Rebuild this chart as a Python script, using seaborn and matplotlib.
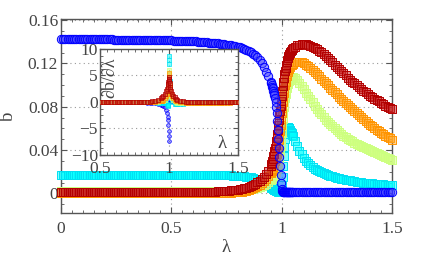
import numpy as np
import pandas as pd
import matplotlib
matplotlib.use("Agg")
import matplotlib.pyplot as plt
from matplotlib.ticker import MultipleLocator
import seaborn as sns

# ---------------- data ----------------
# sampling of lambda: coarse away from the transition, fine around lambda = 1
lam_low = np.round(np.linspace(0.00, 0.94, 95), 4)
lam_mid = np.round(np.linspace(0.95, 1.05, 41), 4)
lam_high = np.round(np.linspace(1.06, 1.50, 45), 4)
lam = np.concatenate([lam_low, lam_mid, lam_high])

b_blue = [
    # 0.00 - 0.94
    0.1427, 0.1427, 0.1427, 0.1427, 0.1426, 0.1426, 0.1426, 0.1426, 0.1425, 0.1425,
    0.1425, 0.1425, 0.1424, 0.1424, 0.1424, 0.1424, 0.1423, 0.1423, 0.1423, 0.1423,
    0.1422, 0.1422, 0.1422, 0.1422, 0.1421, 0.1421, 0.1421, 0.1421, 0.1420, 0.1420,
    0.1420, 0.1420, 0.1419, 0.1419, 0.1419, 0.1418, 0.1418, 0.1418, 0.1417, 0.1417,
    0.1417, 0.1416, 0.1416, 0.1415, 0.1415, 0.1414, 0.1414, 0.1413, 0.1413, 0.1412,
    0.1412, 0.1411, 0.1411, 0.1410, 0.1409, 0.1409, 0.1408, 0.1407, 0.1407, 0.1406,
    0.1405, 0.1404, 0.1402, 0.1401, 0.1399, 0.1397, 0.1395, 0.1393, 0.1391, 0.1389,
    0.1387, 0.1385, 0.1382, 0.1379, 0.1376, 0.1373, 0.1370, 0.1367, 0.1363, 0.1359,
    0.1355, 0.1348, 0.1340, 0.1332, 0.1323, 0.1313, 0.1302, 0.1290, 0.1276, 0.1260,
    0.1235, 0.1205, 0.1168, 0.1125, 0.1080,
    # 0.95 - 1.05 (step 0.0025)
    0.1030, 0.1016, 0.1002, 0.0987, 0.0970, 0.0950, 0.0928, 0.0905, 0.0878, 0.0845,
    0.0800, 0.0740, 0.0670, 0.0590, 0.0505, 0.0420, 0.0335, 0.0250, 0.0170, 0.0095,
    0.0045, 0.0020, 0.0013, 0.0011, 0.0010, 0.0010, 0.0010, 0.0010, 0.0010, 0.0010,
    0.0010, 0.0010, 0.0010, 0.0010, 0.0010, 0.0010, 0.0010, 0.0010, 0.0010, 0.0010,
    0.0010,
    # 1.06 - 1.50
    0.0010, 0.0010, 0.0010, 0.0010, 0.0010, 0.0010, 0.0010, 0.0010, 0.0010, 0.0010,
    0.0010, 0.0010, 0.0010, 0.0010, 0.0010, 0.0010, 0.0010, 0.0010, 0.0010, 0.0010,
    0.0010, 0.0010, 0.0010, 0.0010, 0.0010, 0.0010, 0.0010, 0.0010, 0.0010, 0.0010,
    0.0010, 0.0010, 0.0010, 0.0010, 0.0010, 0.0010, 0.0010, 0.0010, 0.0010, 0.0010,
    0.0010, 0.0010, 0.0010, 0.0010, 0.0010,
]

b_cyan = [
    # 0.00 - 0.94
    0.0174, 0.0174, 0.0174, 0.0174, 0.0174, 0.0174, 0.0174, 0.0174, 0.0174, 0.0174,
    0.0174, 0.0174, 0.0174, 0.0174, 0.0174, 0.0174, 0.0174, 0.0174, 0.0174, 0.0174,
    0.0174, 0.0174, 0.0174, 0.0174, 0.0174, 0.0174, 0.0174, 0.0174, 0.0174, 0.0174,
    0.0173, 0.0173, 0.0173, 0.0173, 0.0173, 0.0173, 0.0173, 0.0173, 0.0173, 0.0173,
    0.0173, 0.0173, 0.0173, 0.0173, 0.0173, 0.0173, 0.0173, 0.0173, 0.0173, 0.0173,
    0.0173, 0.0173, 0.0173, 0.0173, 0.0173, 0.0173, 0.0173, 0.0173, 0.0173, 0.0173,
    0.0172, 0.0172, 0.0172, 0.0172, 0.0172, 0.0172, 0.0172, 0.0172, 0.0172, 0.0172,
    0.0171, 0.0171, 0.0170, 0.0170, 0.0169, 0.0168, 0.0168, 0.0167, 0.0166, 0.0165,
    0.0164, 0.0162, 0.0160, 0.0158, 0.0155, 0.0152, 0.0148, 0.0143, 0.0137, 0.0130,
    0.0122, 0.0112, 0.0100, 0.0087, 0.0073,
    # 0.95 - 1.05
    0.0058, 0.0054, 0.0051, 0.0047, 0.0044, 0.0041, 0.0037, 0.0034, 0.0031, 0.0028,
    0.0025, 0.0023, 0.0020, 0.0019, 0.0017, 0.0016, 0.0015, 0.0015, 0.0015, 0.0016,
    0.0025, 0.0080, 0.0150, 0.0250, 0.0350, 0.0430, 0.0500, 0.0545, 0.0580, 0.0600,
    0.0610, 0.0614, 0.0614, 0.0608, 0.0600, 0.0590, 0.0580, 0.0568, 0.0555, 0.0543,
    0.0530,
    # 1.06 - 1.50
    0.0480, 0.0435, 0.0395, 0.0360,
    0.0330, 0.0303, 0.0280, 0.0260, 0.0243, 0.0228, 0.0215, 0.0204, 0.0194, 0.0185,
    0.0177, 0.0170, 0.0163, 0.0157, 0.0152, 0.0147, 0.0142, 0.0137, 0.0133, 0.0129,
    0.0124, 0.0120, 0.0117, 0.0113, 0.0110, 0.0107, 0.0104, 0.0101, 0.0099, 0.0097,
    0.0095, 0.0093, 0.0091, 0.0089, 0.0088, 0.0086, 0.0085, 0.0083, 0.0082, 0.0080,
    0.0079,
]

b_yellow = [
    # 0.00 - 0.94
    0.0024, 0.0024, 0.0024, 0.0024, 0.0024, 0.0024, 0.0024, 0.0024, 0.0024, 0.0024,
    0.0024, 0.0024, 0.0024, 0.0024, 0.0024, 0.0024, 0.0024, 0.0024, 0.0024, 0.0024,
    0.0024, 0.0024, 0.0024, 0.0024, 0.0024, 0.0024, 0.0024, 0.0024, 0.0024, 0.0024,
    0.0024, 0.0024, 0.0024, 0.0024, 0.0024, 0.0024, 0.0024, 0.0024, 0.0024, 0.0024,
    0.0024, 0.0024, 0.0024, 0.0024, 0.0024, 0.0024, 0.0024, 0.0024, 0.0024, 0.0024,
    0.0024, 0.0024, 0.0024, 0.0024, 0.0024, 0.0024, 0.0024, 0.0024, 0.0024, 0.0024,
    0.0024, 0.0024, 0.0024, 0.0024, 0.0024, 0.0024, 0.0024, 0.0024, 0.0024, 0.0024,
    0.0024, 0.0024, 0.0024, 0.0024, 0.0024, 0.0024, 0.0024, 0.0025, 0.0025, 0.0025,
    0.0026, 0.0027, 0.0028, 0.0030, 0.0032, 0.0035, 0.0038, 0.0042, 0.0047, 0.0053,
    0.0060, 0.0068, 0.0078, 0.0090, 0.0105,
    # 0.95 - 1.05
    0.0125, 0.0131, 0.0137, 0.0143, 0.0150, 0.0158, 0.0166, 0.0175, 0.0185, 0.0197,
    0.0210, 0.0224, 0.0240, 0.0260, 0.0282, 0.0308, 0.0340, 0.0385, 0.0440, 0.0500,
    0.0560, 0.0625, 0.0688, 0.0746, 0.0800, 0.0845, 0.0885, 0.0920, 0.0950, 0.0973,
    0.0994, 0.1013, 0.1030, 0.1041, 0.1051, 0.1059, 0.1065, 0.1068, 0.1070, 0.1071,
    0.1072,
    # 1.06 - 1.50
    0.1065, 0.1045, 0.1020, 0.0990,
    0.0960, 0.0930, 0.0900, 0.0870, 0.0840, 0.0810, 0.0782, 0.0755, 0.0730, 0.0705,
    0.0682, 0.0660, 0.0639, 0.0619, 0.0600, 0.0582, 0.0565, 0.0549, 0.0534, 0.0520,
    0.0506, 0.0493, 0.0481, 0.0469, 0.0458, 0.0447, 0.0437, 0.0427, 0.0418, 0.0409,
    0.0398, 0.0389, 0.0380, 0.0371, 0.0362, 0.0353, 0.0345, 0.0337, 0.0329, 0.0321,
    0.0313,
]

b_orange = [
    # 0.00 - 0.94
    0.0006, 0.0006, 0.0006, 0.0006, 0.0006, 0.0006, 0.0006, 0.0006, 0.0006, 0.0006,
    0.0006, 0.0006, 0.0006, 0.0006, 0.0006, 0.0006, 0.0006, 0.0006, 0.0006, 0.0006,
    0.0006, 0.0006, 0.0006, 0.0006, 0.0006, 0.0006, 0.0006, 0.0006, 0.0006, 0.0006,
    0.0006, 0.0006, 0.0006, 0.0006, 0.0006, 0.0006, 0.0006, 0.0006, 0.0006, 0.0006,
    0.0006, 0.0006, 0.0006, 0.0006, 0.0006, 0.0006, 0.0006, 0.0006, 0.0006, 0.0006,
    0.0006, 0.0006, 0.0006, 0.0006, 0.0006, 0.0006, 0.0006, 0.0006, 0.0006, 0.0006,
    0.0006, 0.0006, 0.0006, 0.0006, 0.0006, 0.0006, 0.0006, 0.0006, 0.0006, 0.0006,
    0.0006, 0.0006, 0.0007, 0.0007, 0.0007, 0.0008, 0.0008, 0.0009, 0.0010, 0.0011,
    0.0012, 0.0015, 0.0018, 0.0022, 0.0027, 0.0033, 0.0040, 0.0048, 0.0057, 0.0068,
    0.0080, 0.0095, 0.0112, 0.0132, 0.0158,
    # 0.95 - 1.05
    0.0190, 0.0199, 0.0209, 0.0219, 0.0230, 0.0245, 0.0262, 0.0280, 0.0300, 0.0320,
    0.0342, 0.0365, 0.0390, 0.0420, 0.0452, 0.0490, 0.0530, 0.0580, 0.0632, 0.0686,
    0.0740, 0.0790, 0.0840, 0.0886, 0.0930, 0.0967, 0.1000, 0.1031, 0.1060, 0.1082,
    0.1102, 0.1120, 0.1135, 0.1147, 0.1157, 0.1167, 0.1175, 0.1182, 0.1188, 0.1193,
    0.1198,
    # 1.06 - 1.50
    0.1210, 0.1215, 0.1215, 0.1210,
    0.1200, 0.1188, 0.1174, 0.1158, 0.1140, 0.1121, 0.1101, 0.1081, 0.1061, 0.1040,
    0.1020, 0.0999, 0.0978, 0.0957, 0.0936, 0.0915, 0.0894, 0.0874, 0.0854, 0.0834,
    0.0814, 0.0795, 0.0776, 0.0757, 0.0739, 0.0721, 0.0703, 0.0686, 0.0669, 0.0652,
    0.0636, 0.0620, 0.0605, 0.0590, 0.0575, 0.0561, 0.0547, 0.0534, 0.0521, 0.0508,
    0.0496,
]

b_red = [
    # 0.00 - 0.94
    0.0014, 0.0014, 0.0014, 0.0014, 0.0014, 0.0014, 0.0014, 0.0014, 0.0014, 0.0014,
    0.0014, 0.0014, 0.0014, 0.0014, 0.0014, 0.0014, 0.0014, 0.0014, 0.0014, 0.0014,
    0.0014, 0.0014, 0.0014, 0.0014, 0.0014, 0.0014, 0.0014, 0.0014, 0.0014, 0.0014,
    0.0014, 0.0014, 0.0014, 0.0014, 0.0014, 0.0014, 0.0014, 0.0014, 0.0014, 0.0014,
    0.0014, 0.0014, 0.0014, 0.0014, 0.0014, 0.0014, 0.0014, 0.0014, 0.0014, 0.0014,
    0.0014, 0.0014, 0.0014, 0.0014, 0.0014, 0.0014, 0.0014, 0.0014, 0.0014, 0.0014,
    0.0014, 0.0014, 0.0014, 0.0015, 0.0015, 0.0015, 0.0016, 0.0016, 0.0017, 0.0017,
    0.0018, 0.0019, 0.0020, 0.0021, 0.0022, 0.0024, 0.0026, 0.0028, 0.0030, 0.0033,
    0.0036, 0.0040, 0.0044, 0.0049, 0.0055, 0.0062, 0.0070, 0.0079, 0.0090, 0.0102,
    0.0116, 0.0132, 0.0152, 0.0177, 0.0210,
    # 0.95 - 1.05
    0.0255, 0.0270, 0.0285, 0.0302, 0.0320, 0.0343, 0.0367, 0.0393, 0.0420, 0.0450,
    0.0481, 0.0515, 0.0550, 0.0590, 0.0632, 0.0675, 0.0720, 0.0765, 0.0810, 0.0855,
    0.0900, 0.0945, 0.0988, 0.1030, 0.1070, 0.1103, 0.1133, 0.1162, 0.1190, 0.1210,
    0.1230, 0.1248, 0.1265, 0.1277, 0.1289, 0.1300, 0.1310, 0.1318, 0.1325, 0.1332,
    0.1338,
    # 1.06 - 1.50
    0.1355, 0.1366, 0.1373, 0.1377,
    0.1378, 0.1376, 0.1372, 0.1365, 0.1356, 0.1345, 0.1332, 0.1318, 0.1302, 0.1285,
    0.1267, 0.1248, 0.1229, 0.1209, 0.1189, 0.1169, 0.1149, 0.1129, 0.1109, 0.1089,
    0.1070, 0.1051, 0.1033, 0.1015, 0.0998, 0.0981, 0.0965, 0.0949, 0.0934, 0.0919,
    0.0904, 0.0890, 0.0876, 0.0862, 0.0849, 0.0836, 0.0823, 0.0811, 0.0799, 0.0787,
    0.0776,
]

# inset: derivative db/dlambda
lam_in = [
    0.50, 0.52, 0.54, 0.56, 0.58, 0.60, 0.62, 0.64, 0.66, 0.68,
    0.70, 0.72, 0.74, 0.76, 0.78, 0.80, 0.82, 0.84, 0.86, 0.88,
    0.90, 0.92, 0.94, 0.95, 0.96, 0.97, 0.98, 0.985, 0.99, 0.993,
    0.996, 0.998, 0.999, 1.000, 1.001, 1.002, 1.004, 1.007, 1.01, 1.015,
    1.02, 1.03, 1.04, 1.05, 1.06, 1.08, 1.10, 1.12, 1.14, 1.16,
    1.18, 1.20, 1.22, 1.24, 1.26, 1.28, 1.30, 1.32, 1.34, 1.36,
    1.38, 1.40, 1.42, 1.44, 1.46, 1.48, 1.50,
]
d_blue = [
    0.0, 0.0, 0.0, 0.0, 0.0, 0.0, 0.0, 0.0, 0.0, 0.0,
    -0.02, -0.03, -0.03, -0.04, -0.05, -0.06, -0.08, -0.10, -0.13, -0.18,
    -0.25, -0.38, -0.50, -0.60, -0.75, -1.00, -1.60, -2.10, -2.80, -3.40,
    -4.30, -5.40, -6.40, -7.40, 0.60, 0.50, 0.40, 0.30, 0.25, 0.20,
    0.15, 0.12, 0.10, 0.08, 0.06, 0.05, 0.04, 0.03, 0.02, 0.02,
    0.01, 0.01, 0.01, 0.01, 0.01, 0.01, 0.01, 0.01, 0.01, 0.01,
    0.01, 0.01, 0.01, 0.01, 0.01, 0.01, 0.01,
]
d_cyan = [
    0.0, 0.0, 0.0, 0.0, 0.0, 0.0, 0.0, 0.0, 0.0, 0.0,
    0.0, 0.0, 0.0, 0.0, 0.0, -0.01, -0.02, -0.03, -0.04, -0.05,
    -0.08, -0.10, -0.12, -0.13, -0.14, -0.15, -0.25, -0.35, -0.50, -0.70,
    -0.60, 1.50, 4.00, 8.60, 7.90, 7.20, 4.00, 2.20, 1.40, 0.70,
    0.30, 0.00, -0.30, -0.45, -0.45, -0.40, -0.32, -0.25, -0.20, -0.16,
    -0.13, -0.11, -0.09, -0.08, -0.07, -0.06, -0.05, -0.045, -0.04, -0.035,
    -0.03, -0.03, -0.025, -0.025, -0.02, -0.02, -0.02,
]
d_yellow = [
    0.0, 0.0, 0.0, 0.0, 0.0, 0.0, 0.0, 0.0, 0.0, 0.0,
    0.0, 0.0, 0.0, 0.0, 0.0, 0.01, 0.01, 0.02, 0.02, 0.03,
    0.05, 0.08, 0.12, 0.16, 0.25, 0.40, 0.75, 1.10, 1.60, 2.10,
    2.90, 3.90, 5.00, 6.10, 5.20, 4.20, 3.00, 2.00, 1.50, 1.00,
    0.70, 0.40, 0.15, 0.00, -0.10, -0.20, -0.25, -0.28, -0.28, -0.27,
    -0.25, -0.22, -0.20, -0.18, -0.16, -0.15, -0.14, -0.13, -0.12, -0.11,
    -0.10, -0.09, -0.09, -0.08, -0.08, -0.08, -0.07,
]
d_orange = [
    0.0, 0.0, 0.0, 0.0, 0.0, 0.0, 0.0, 0.0, 0.0, 0.0,
    0.0, 0.0, 0.0, 0.0, 0.01, 0.02, 0.02, 0.03, 0.04, 0.05,
    0.08, 0.12, 0.20, 0.28, 0.45, 0.70, 1.20, 1.60, 2.20, 2.70,
    3.40, 4.20, 4.80, 5.40, 4.80, 4.20, 3.40, 2.60, 2.10, 1.50,
    1.10, 0.70, 0.40, 0.25, 0.15, 0.05, -0.05, -0.10, -0.12, -0.14,
    -0.15, -0.15, -0.15, -0.14, -0.14, -0.13, -0.13, -0.12, -0.12, -0.11,
    -0.11, -0.10, -0.10, -0.10, -0.09, -0.09, -0.09,
]
d_red = [
    0.0, 0.0, 0.0, 0.0, 0.0, 0.0, 0.0, 0.0, 0.0, 0.0,
    0.01, 0.01, 0.01, 0.02, 0.02, 0.03, 0.04, 0.05, 0.08, 0.15,
    0.25, 0.45, 0.75, 0.95, 1.20, 1.55, 2.10, 2.50, 2.90, 3.30,
    3.70, 4.10, 4.40, 4.80, 4.40, 4.00, 3.50, 2.90, 2.50, 2.00,
    1.60, 1.15, 0.85, 0.62, 0.45, 0.25, 0.15, 0.08, 0.03, 0.00,
    -0.03, -0.05, -0.06, -0.07, -0.08, -0.08, -0.08, -0.08, -0.08, -0.08,
    -0.08, -0.08, -0.07, -0.07, -0.07, -0.07, -0.07,
]

main_ticks_x = [0, 0.5, 1, 1.5]
main_ticklabels_x = ["0", "0.5", "1", "1.5"]
main_ticks_y = [0, 0.04, 0.08, 0.12, 0.16]
main_ticklabels_y = ["0", "0.04", "0.08", "0.12", "0.16"]
inset_ticks_x = [0.5, 1, 1.5]
inset_ticklabels_x = ["0.5", "1", "1.5"]
inset_ticks_y = [-10, -5, 0, 5, 10]
inset_ticklabels_y = ["\u221210", "\u22125", "0", "5", "10"]

for arr in (b_blue, b_cyan, b_yellow, b_orange, b_red):
    assert len(arr) == len(lam), len(arr)
for arr in (d_blue, d_cyan, d_yellow, d_orange, d_red):
    assert len(arr) == len(lam_in), len(arr)

# ---------------- style ----------------
sns.set_style("ticks")
plt.rcParams["font.family"] = ["Liberation Serif", "DejaVu Serif"]
TXT = "#444444"
plt.rcParams["text.color"] = TXT
plt.rcParams["axes.labelcolor"] = TXT
plt.rcParams["xtick.color"] = "#555555"
plt.rcParams["ytick.color"] = "#555555"
plt.rcParams["xtick.labelcolor"] = TXT
plt.rcParams["ytick.labelcolor"] = TXT

FS = 12.5

# (name, main values, inset values, marker, face rgba, edge rgb)
series = [
    ("cyan", b_cyan, d_cyan, "s", (0.0, 1.0, 1.0, 0.5), (0.0, 0.88, 0.95)),
    ("yellow", b_yellow, d_yellow, "s", (0.82, 1.0, 0.50, 0.5), (0.80, 1.0, 0.50)),
    ("orange", b_orange, d_orange, "s", (1.0, 0.65, 0.15, 0.5), (1.0, 0.58, 0.0)),
    ("red", b_red, d_red, "s", (0.78, 0.15, 0.15, 0.5), (0.70, 0.0, 0.0)),
    ("blue", b_blue, d_blue, "o", (0.25, 0.25, 1.0, 0.45), (0.0, 0.0, 1.0)),
]

fig = plt.figure(figsize=(4.32, 2.57), dpi=100)
ax = fig.add_axes([0.1412, 0.1712, 0.7662, 0.7548])

for i, (name, vals, dvals, mk, fc, ec) in enumerate(series):
    df = pd.DataFrame({"lam": lam, "b": vals})
    sns.scatterplot(data=df, x="lam", y="b", ax=ax, marker=mk,
                    s=30 if mk == "s" else 36, color=fc, edgecolor=ec,
                    linewidth=0.7, clip_on=False, zorder=3 + i, legend=False)

ax.set_xlim(0, 1.5)
ax.set_ylim(-0.018, 0.161)
ax.set_xticks(main_ticks_x)
ax.set_xticklabels(main_ticklabels_x)
ax.set_yticks(main_ticks_y)
ax.set_yticklabels(main_ticklabels_y)
ax.xaxis.set_minor_locator(MultipleLocator(0.05))
ax.yaxis.set_minor_locator(MultipleLocator(0.01))
ax.tick_params(which="both", direction="in", top=True, right=True,
               labelsize=FS)
ax.tick_params(which="major", length=4.5, width=0.8)
ax.tick_params(which="minor", length=2.5, width=0.6)
ax.tick_params(axis="x", pad=6)
ax.tick_params(axis="y", pad=2)
ax.grid(True, which="major", linestyle=(0, (1, 3)), color="0.6", linewidth=0.8)
ax.set_axisbelow(True)
for sp in ax.spines.values():
    sp.set_color("#555555")
    sp.set_linewidth(1.0)
ax.set_xlabel("\u03bb", fontsize=FS + 1, labelpad=1)
ax.set_ylabel("b", fontsize=FS + 1, labelpad=8)

# ---------------- inset ----------------
axi = fig.add_axes([0.2315, 0.3969, 0.3194, 0.4125])
axi.set_facecolor("white")
inset_order = [4, 0, 1, 2, 3]
for j, idx in enumerate(inset_order):
    name, vals, dvals, mk, fc, ec = series[idx]
    dfi = pd.DataFrame({"lam": lam_in, "d": dvals})
    sns.scatterplot(data=dfi, x="lam", y="d", ax=axi, marker=mk,
                    s=7, color=fc, edgecolor=ec, linewidth=0.5,
                    zorder=3 + j, legend=False)
axi.set_xlim(0.5, 1.5)
axi.set_ylim(-10, 10)
axi.set_xticks(inset_ticks_x)
axi.set_xticklabels(inset_ticklabels_x)
axi.set_yticks(inset_ticks_y)
axi.set_yticklabels(inset_ticklabels_y)
axi.xaxis.set_minor_locator(MultipleLocator(0.05))
axi.yaxis.set_minor_locator(MultipleLocator(1.25))
axi.tick_params(which="both", direction="in", top=True, right=True,
                labelsize=FS)
axi.tick_params(which="major", length=3.5, width=0.8)
axi.tick_params(which="minor", length=2, width=0.6)
axi.tick_params(axis="x", pad=4)
axi.tick_params(axis="y", pad=1.5)
axi.grid(True, which="major", linestyle=(0, (1, 3)), color="0.6", linewidth=0.8)
axi.set_axisbelow(True)
for sp in axi.spines.values():
    sp.set_color("#555555")
    sp.set_linewidth(1.0)
axi.set_xlabel("")
axi.set_ylabel("")
axi.text(0.07, 0.73, "\u2202b/\u2202\u03bb", rotation=90, transform=axi.transAxes,
         ha="center", va="center", fontsize=FS + 0.5, color=TXT)
axi.text(0.885, 0.11, "\u03bb", transform=axi.transAxes,
         ha="center", va="center", fontsize=FS + 1, color=TXT)

fig.savefig("out.png", dpi=100)
